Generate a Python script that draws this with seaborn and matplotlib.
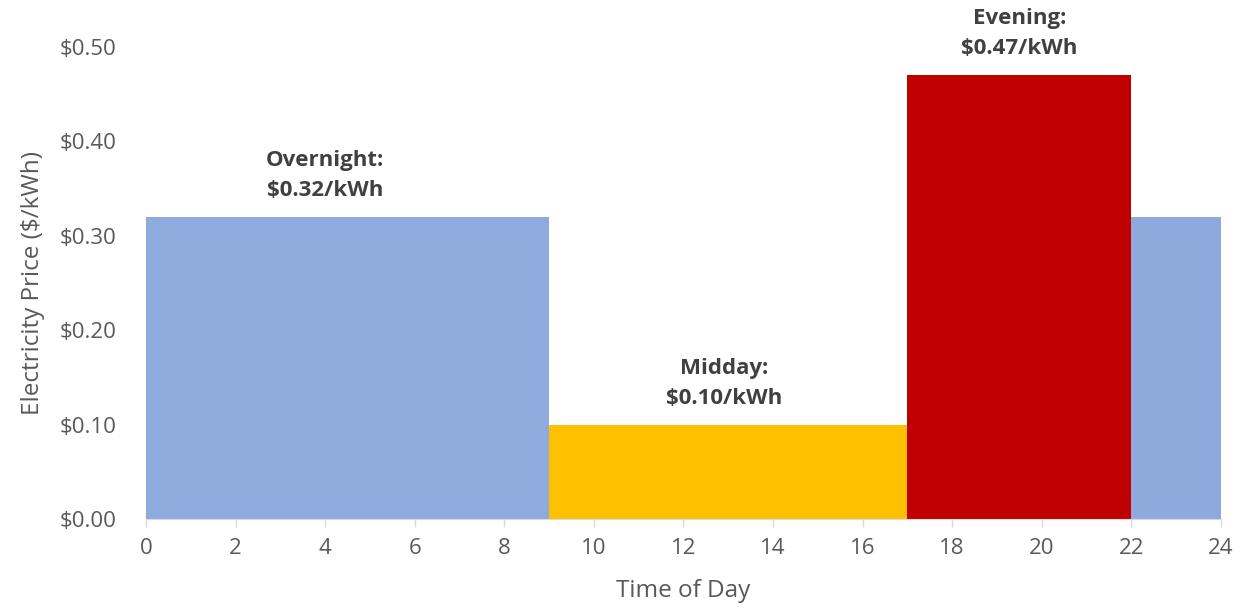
import numpy as np
import pandas as pd
import matplotlib
matplotlib.use("Agg")
import matplotlib.pyplot as plt
import seaborn as sns

# time-of-use segments
period = ["Overnight", "Midday", "Evening", "Late"]
start_hr = [0, 9, 17, 22]
end_hr = [9, 17, 22, 24]
price = [0.32, 0.10, 0.47, 0.32]
colors = ["#8FAADC", "#FFC000", "#C00000", "#8EA9DB"]
label_names = ["Overnight", "Midday", "Evening"]
label_x = [4.0, 12.9, 19.5]
label_price = [0.32, 0.10, 0.47]

sns.set_style("white")
plt.rcParams["font.family"] = ["Open Sans", "DejaVu Sans"]

df = pd.DataFrame({
    "period": period,
    "mid": [(s + e) / 2 for s, e in zip(start_hr, end_hr)],
    "price": price,
})
edges = start_hr + [end_hr[-1]]

fig, ax = plt.subplots(figsize=(12.42, 6.07), dpi=100)
sns.histplot(data=df, x="mid", weights="price", hue="period", bins=edges,
             palette=dict(zip(period, colors)), multiple="layer", alpha=1,
             linewidth=0, legend=False, ax=ax)

for name, x, p in zip(label_names, label_x, label_price):
    ax.text(x, p + 0.017, f"{name}:\n\\${p:.2f}/kWh", ha="center", va="bottom",
            fontsize=16, fontweight="bold", color="#404040", linespacing=1.55)

ax.set_xlim(0, 24)
ax.set_ylim(0, 0.5)
ax.set_xticks(range(0, 25, 2))
ax.set_yticks(np.arange(0, 0.51, 0.1))
ax.set_yticklabels([f"\\${v:.2f}" for v in np.arange(0, 0.51, 0.1)])
ax.tick_params(axis="both", labelsize=16, labelcolor="#595959")
ax.tick_params(axis="x", bottom=True, length=6, color="#D9D9D9", width=1, pad=8)
ax.tick_params(axis="y", left=False, pad=18)
ax.set_xlabel("Time of Day", fontsize=17.5, color="#595959", labelpad=14)
ax.set_ylabel("Electricity Price (\\$/kWh)", fontsize=17.5, color="#595959", labelpad=10)

for s in ["top", "right", "left"]:
    ax.spines[s].set_visible(False)
ax.spines["bottom"].set_color("#D9D9D9")

plt.subplots_adjust(left=0.1176, right=0.983, bottom=0.145, top=0.9226)
plt.savefig("out.png", dpi=100)
